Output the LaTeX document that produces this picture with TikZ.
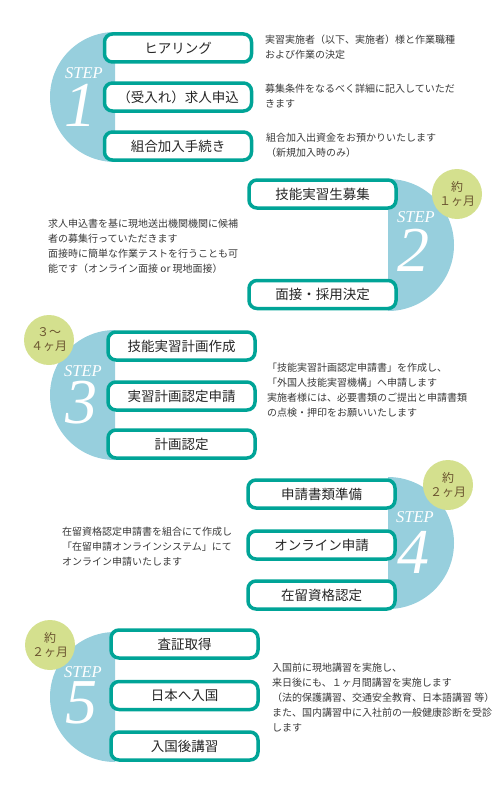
\documentclass[tikz,border=0pt]{standalone}
\usepackage{fontspec}
\setmainfont{Noto Sans CJK JP}
\newfontfamily\stepfont{Liberation Serif}
\usepackage{xcolor}
\usepackage{tikz}
\definecolor{boxteal}{HTML}{00A497}
\definecolor{diskblue}{HTML}{97CFDD}
\definecolor{termgreen}{HTML}{D4E08E}
\definecolor{termbrown}{HTML}{6B5530}
\definecolor{notegray}{HTML}{3A3A3A}

\tikzset{
  stepbox/.style={draw=boxteal, line width=3.5pt, rounded corners=8pt, fill=white,
    minimum width=147pt, minimum height=28pt, inner sep=0pt,
    font=\fontsize{13.5}{14}\selectfont, text=black!85},
  note/.style={align=left, anchor=west, inner sep=0pt,
    font=\fontsize{10}{15}\selectfont, text=notegray},
  term/.style={circle, fill=termgreen, minimum size=50pt, inner sep=0pt, align=center,
    font=\fontsize{12}{14}\selectfont, text=termbrown},
  steplabel/.style={text=white, inner sep=0pt, font=\stepfont\itshape\fontsize{16.5}{16.5}\selectfont},
  stepnum/.style={text=white, inner sep=0pt, font=\stepfont\itshape\fontsize{64}{64}\selectfont}
}

\begin{document}
\begin{tikzpicture}[x=1pt, y=-1pt]
    \useasboundingbox (0,0) rectangle (500,800);

    % half disks, left side
    \begin{scope}
        \clip (0,0) rectangle (115,800);
        \fill[diskblue] (115,97) circle[radius=65];
        \fill[diskblue] (115,395) circle[radius=65];
        \fill[diskblue] (115,697) circle[radius=65];
    \end{scope}
    % half disks, right side
    \begin{scope}
        \clip (388,0) rectangle (500,800);
        \fill[diskblue] (388,245) circle[radius=66];
        \fill[diskblue] (388,543) circle[radius=66];
    \end{scope}

    % STEP 1
    \node[stepbox] (hearing) at (178,48) {ヒアリング};
    \node[stepbox] (offer) at (178,97) {（受入れ）求人申込};
    \node[stepbox] (join) at (178,146) {組合加入手続き};
    \node[note] (hearingnote) at (265,47) {実習実施者（以下、実施者）様と作業職種\\および作業の決定};
    \node[note] (offernote) at (265,96) {募集条件をなるべく詳細に記入していただ\\きます};
    \node[note] (joinnote) at (266,145) {組合加入出資金をお預かりいたします\\（新規加入時のみ）};
    \node[steplabel] (step1) at (84,73) {STEP};
    \node[stepnum] (num1) at (80,105) {1};

    % STEP 2
    \node[stepbox] (recruit) at (322.5,194) {技能実習生募集};
    \node[stepbox] (interview) at (322.5,294.5) {面接・採用決定};
    \node[note] (recruitnote) at (48,246.5) {求人申込書を基に現地送出機関機関に候補\\者の募集行っていただきます\\面接時に簡単な作業テストを行うことも可\\能です（オンライン面接 or 現地面接）};
    \node[term] (term2) at (457,194) {約\\１ヶ月};
    \node[steplabel] (step2) at (416,217) {STEP};
    \node[stepnum] (num2) at (413,250) {2};

    % STEP 3
    \node[stepbox] (plan) at (181.5,346) {技能実習計画作成};
    \node[stepbox] (apply) at (181.5,396) {実習計画認定申請};
    \node[stepbox] (approve) at (181.5,444) {計画認定};
    \node[note] (plannote) at (267,390.5) {「技能実習計画認定申請書」を作成し、\\「外国人技能実習機構」へ申請します\\実施者様には、必要書類のご提出と申請書類\\の点検・押印をお願いいたします};
    \node[term] (term3) at (49,340) {３〜\\４ヶ月};
    \node[steplabel] (step3) at (83,371) {STEP};
    \node[stepnum] (num3) at (81,403) {3};

    % STEP 4
    \node[stepbox] (papers) at (321.5,494) {申請書類準備};
    \node[stepbox] (online) at (321.5,545) {オンライン申請};
    \node[stepbox] (status) at (321.5,595) {在留資格認定};
    \node[note] (statusnote) at (62,547) {在留資格認定申請書を組合にて作成し\\「在留申請オンラインシステム」にて\\オンライン申請いたします};
    \node[term] (term4) at (448,485) {約\\２ヶ月};
    \node[steplabel] (step4) at (415,517) {STEP};
    \node[stepnum] (num4) at (413,552) {4};

    % STEP 5
    \node[stepbox] (visa) at (184.5,644) {査証取得};
    \node[stepbox] (entry) at (184.5,695.5) {日本へ入国};
    \node[stepbox] (training) at (184.5,746) {入国後講習};
    \node[note] (trainingnote) at (272,697.5) {入国前に現地講習を実施し、\\来日後にも、１ヶ月間講習を実施します\\（法的保護講習、交通安全教育、日本語講習 等）\\また、国内講習中に入社前の一般健康診断を受診\\します};
    \node[term] (term5) at (50,645) {約\\２ヶ月};
    \node[steplabel] (step5) at (83,672) {STEP};
    \node[stepnum] (num5) at (81,703) {5};
\end{tikzpicture}
\end{document}
